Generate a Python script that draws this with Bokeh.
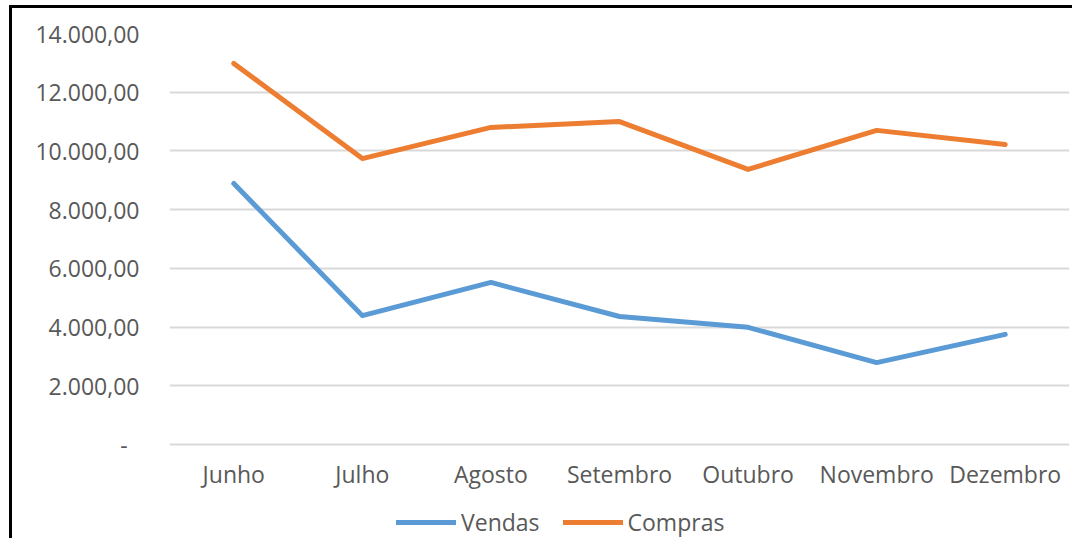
from bokeh.plotting import figure
from bokeh.models import FactorRange, Range1d, FixedTicker, Legend, LegendItem, ColumnDataSource
from bokeh.core.properties import value
from bokeh.embed import file_html
from bokeh.resources import INLINE

meses = ["Junho", "Julho", "Agosto", "Setembro", "Outubro", "Novembro", "Dezembro"]
vendas = [8890, 4390, 5520, 4360, 3990, 2790, 3750]
compras = [12980, 9740, 10800, 11000, 9370, 10700, 10220]
y_ticks = [0, 2000, 4000, 6000, 8000, 10000, 12000, 14000]
y_labels = ["-\u00a0\u00a0", "2.000,00", "4.000,00", "6.000,00", "8.000,00",
            "10.000,00", "12.000,00", "14.000,00"]
y_min, y_max = 0, 14000

FONT = "Open Sans"
TXT = "#595959"
FS = "23px"

# frame: 411 px for 0..14000, extended down to the bottom of the chart for the
# category labels and legend (508 px in total)
y_low = y_max - (y_max - y_min) * 508 / 411

p = figure(width=1063, height=533, output_backend="svg", toolbar_location=None,
           x_range=FactorRange(*meses, range_padding=0), y_range=Range1d(y_low, y_max),
           x_axis_location=None,
           min_border_left=157, min_border_right=6, min_border_top=25,
           min_border_bottom=0)
p.styles = {"border-left": "3px solid #000000", "border-top": "3px solid #000000"}
p.margin = (5, 0, 0, 9)
p.outline_line_color = None

p.xgrid.grid_line_color = None
p.ygrid.grid_line_color = "#d9d9d9"
p.ygrid.grid_line_width = 2

p.yaxis.ticker = FixedTicker(ticks=y_ticks)
p.yaxis.major_label_overrides = {t: l for t, l in zip(y_ticks, y_labels)}
ax = p.yaxis[0]
ax.axis_line_color = None
ax.major_tick_line_color = None
ax.minor_tick_line_color = None
ax.major_tick_in = 0
ax.major_tick_out = 0
ax.major_label_text_font = FONT
ax.major_label_text_font_size = FS
ax.major_label_text_color = TXT
ax.major_label_standoff = 30

# category labels under the 0 baseline
lbl = ColumnDataSource(dict(x=meses, y=[y_min] * len(meses), t=meses))
p.text(x="x", y="y", text="t", source=lbl, text_font=value(FONT),
       text_font_size=value(FS), text_color=TXT, text_align="center",
       text_baseline="middle", y_offset=29)

r1 = p.line(meses, vendas, line_color="#5b9bd5", line_width=5, line_cap="round", line_join="round")
r2 = p.line(meses, compras, line_color="#ed7d31", line_width=5, line_cap="round", line_join="round")

legend = Legend(items=[LegendItem(label="Vendas", renderers=[r1]),
                       LegendItem(label="Compras", renderers=[r2])],
                orientation="horizontal", location=(227, 3),
                label_text_font=FONT, label_text_font_size=FS, label_text_color=TXT,
                glyph_width=60, glyph_height=20, label_standoff=5, spacing=23,
                padding=0, margin=0, border_line_color=None, background_fill_alpha=0)
p.add_layout(legend, "center")

open("out.html", "w").write(file_html(p, INLINE))
